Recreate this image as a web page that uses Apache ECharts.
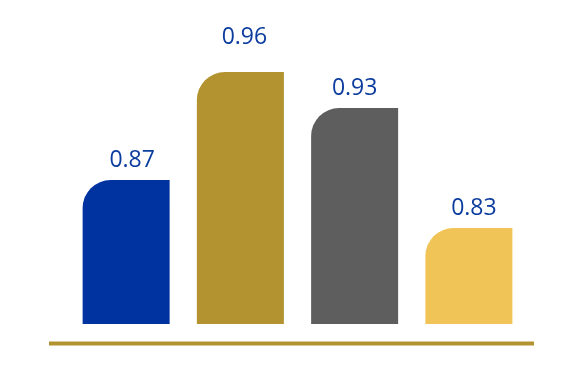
<!DOCTYPE html>
<html><head><meta charset="utf-8">
<script src="https://cdn.jsdelivr.net/npm/echarts@6/dist/echarts.min.js"></script>
<style>html,body{margin:0;padding:0;background:#fff}#c{width:580px;height:365px}</style>
</head><body><div id="c"></div>
<script>
const categories = ['A', 'B', 'C', 'D'];
const values = [0.87, 0.96, 0.93, 0.83];
const colors = ['#0033A0', '#B29330', '#5E5E5E', '#F0C457'];
const labelShift = [6, 4, 0, 5];

const chart = echarts.init(document.getElementById('c'), null, {renderer: 'canvas'});
chart.setOption({
  animation: false,
  grid: {left: 69, right: 54, top: 24, bottom: 41},
  xAxis: {
    type: 'category', data: categories,
    axisLine: {show: false}, axisTick: {show: false}, axisLabel: {show: false}
  },
  yAxis: {
    type: 'value', min: 0.75, max: 1.0,
    show: false, splitLine: {show: false}
  },
  graphic: [{
    type: 'line', shape: {x1: 49, y1: 343.5, x2: 534, y2: 343.5},
    style: {stroke: '#B29330', lineWidth: 4}
  }],
  series: [{
    type: 'bar',
    data: values.map((v, i) => ({
      value: v, itemStyle: {color: colors[i]},
      label: {distance: i === 1 ? 23 : 8, offset: [labelShift[i], 0]}
    })),
    barWidth: 87,
    itemStyle: {borderRadius: [28, 0, 0, 0]},
    label: {
      show: true, position: 'top',
      color: '#0B3C9E', fontSize: 23, fontFamily: 'Open Sans',
      formatter: p => p.value.toFixed(2)
    }
  }]
});
</script></body></html>
